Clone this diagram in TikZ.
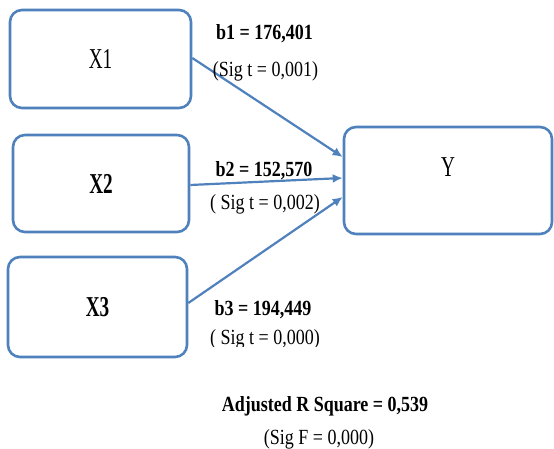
\documentclass[tikz,border=0pt]{standalone}
\usepackage{fontspec}
\setmainfont{Liberation Serif}
\usetikzlibrary{arrows.meta}
\definecolor{boxblue}{RGB}{79,129,189}
\newcommand{\biglab}[1]{{\fontsize{24}{26}\selectfont\scalebox{0.8}[1.2]{#1}}}
\newcommand{\tall}[1]{\scalebox{1}[1.2]{#1}}
\tikzset{
  box/.style={draw=boxblue, line width=2.6pt, rounded corners=12pt, fill=white},
  conn/.style={draw=boxblue, line width=2.2pt, -{Latex[length=10pt,width=9pt]}},
  txt/.style={font=\fontsize{18}{22}\selectfont, anchor=base, inner sep=0pt}
}
\begin{document}
\begin{tikzpicture}[x=1pt,y=-1pt]
\useasboundingbox (0,0) rectangle (554,449);
\clip (0,0) rectangle (554,449);
\fill[white] (0,0) rectangle (554,449);
% boxes
\node[box, minimum width=181pt, minimum height=98pt] (X1) at (100.5,59) {\biglab{X1}};
\node[box, minimum width=176pt, minimum height=97pt] (X2) at (101,183.5) {\biglab{\bfseries X2}};
\node[box, minimum width=179pt, minimum height=100pt] (X3) at (97.5,307) {\biglab{\bfseries X3}};
\node[box, minimum width=208pt, minimum height=107pt,
      label={[anchor=center, yshift=13.5pt]center:\biglab{Y}}] (Y) at (448,180.5) {};
% connectors
\draw[conn] ([yshift=1pt]X1.east) -- ([yshift=23.5pt]Y.west);
\draw[conn] ([yshift=-1.5pt]X2.east) -- ([yshift=2.5pt]Y.west);
\draw[conn] ([yshift=4pt]X3.east) -- ([yshift=-16.5pt]Y.west);
% labels
\node[txt] (b1) at (264.5,40) {\tall{\bfseries b1 = 176,401}};
\node[txt] (s1) at (265.5,77) {\tall{(Sig t = 0,001)}};
\node[txt] (b2) at (264,177) {\tall{\bfseries b2 = 152,570}};
\node[txt] (s2) at (265,210) {\tall{( Sig t = 0,002)}};
\node[txt] (b3) at (263,315) {\tall{\bfseries b3 = 194,449}};
\begin{scope}
\clip (180,320) rectangle (340,346);
\node[txt] (s3) at (265,344) {\tall{( Sig t = 0,000)}};
\end{scope}
\node[txt] (r2) at (325,411) {\tall{\bfseries Adjusted R Square = 0,539}};
\node[txt] (sf) at (319,444) {\tall{(Sig F = 0,000)}};
\end{tikzpicture}
\end{document}
